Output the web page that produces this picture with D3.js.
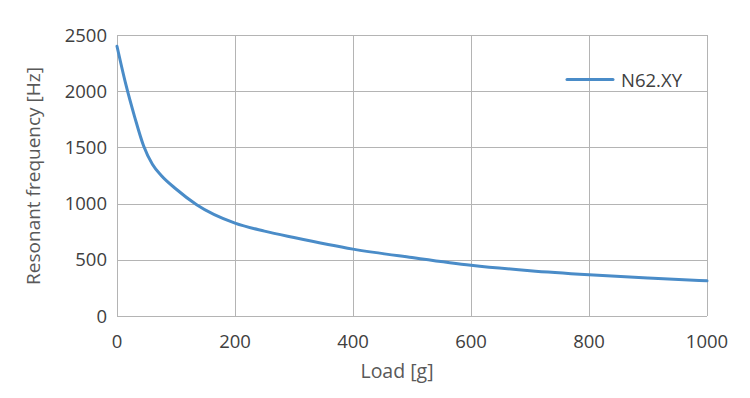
<!DOCTYPE html>
<html lang="en">
<head>
<meta charset="UTF-8">
<title>Resonant frequency vs load</title>
<style>
    body { margin: 0; background: #fff; }
    svg text { font-family: "Open Sans", "Noto Sans", sans-serif; }
</style>
</head>
<body>
<svg width="750" height="398"></svg>
<script src="https://d3js.org/d3.v7.min.js"></script>
<script>
    // values
    const loads = [0, 15, 30, 45, 60, 75, 100, 135, 200, 250, 300, 400, 500, 600, 700, 800, 900, 1000];
    const freqs = [2400, 2060, 1770, 1515, 1350, 1250, 1130, 990, 826, 755, 698, 595, 520, 452, 403, 367, 338, 313];
    const xTicks = [0, 200, 400, 600, 800, 1000];
    const yTicks = [0, 500, 1000, 1500, 2000, 2500];
    const seriesName = "N62.XY";

    const svg = d3.select("svg");
    const x = d3.scaleLinear().domain([0, 1000]).range([117, 707]);
    const y = d3.scaleLinear().domain([0, 2500]).range([316, 35]);

    const grid = svg.append("g").attr("stroke", "#b4b4b4").attr("stroke-width", 1);
    grid.selectAll(".gx").data(xTicks).join("line")
        .attr("x1", d => Math.round(x(d)) + 0.5).attr("x2", d => Math.round(x(d)) + 0.5)
        .attr("y1", y(2500)).attr("y2", y(0));
    grid.selectAll(".gy").data(yTicks).join("line")
        .attr("y1", d => Math.round(y(d)) + 0.5).attr("y2", d => Math.round(y(d)) + 0.5)
        .attr("x1", x(0)).attr("x2", x(1000));

    svg.append("g").selectAll("text").data(yTicks).join("text")
        .attr("x", 107).attr("y", d => y(d)).attr("dy", "0.36em")
        .attr("text-anchor", "end").attr("font-size", 18.5).attr("fill", "#404040")
        .text(d => d);

    svg.append("g").selectAll("text").data(xTicks).join("text")
        .attr("x", d => x(d)).attr("y", 341).attr("dy", "0.36em")
        .attr("text-anchor", "middle").attr("font-size", 18.5).attr("fill", "#404040")
        .text(d => d);

    svg.append("text").attr("x", 397).attr("y", 371).attr("dy", "0.36em")
        .attr("text-anchor", "middle").attr("font-size", 19.5).attr("fill", "#595959")
        .text("Load [g]");

    svg.append("text").attr("transform", "translate(33,176) rotate(-90)").attr("dy", "0.36em")
        .attr("text-anchor", "middle").attr("font-size", 19).attr("fill", "#595959")
        .text("Resonant frequency [Hz]");

    const line = d3.line()
        .x((d, i) => x(loads[i]))
        .y(d => y(d))
        .curve(d3.curveMonotoneX);

    svg.append("path").datum(freqs)
        .attr("fill", "none").attr("stroke", "#4a8cc8").attr("stroke-width", 3)
        .attr("stroke-linecap", "round").attr("d", line);

    // legend
    svg.append("line").attr("x1", 567).attr("x2", 613).attr("y1", 79.5).attr("y2", 79.5)
        .attr("stroke", "#4a8cc8").attr("stroke-width", 3).attr("stroke-linecap", "round");
    svg.append("text").attr("x", 621).attr("y", 80).attr("dy", "0.36em")
        .attr("font-size", 18.5).attr("fill", "#404040").text(seriesName);
</script>
</body>
</html>
